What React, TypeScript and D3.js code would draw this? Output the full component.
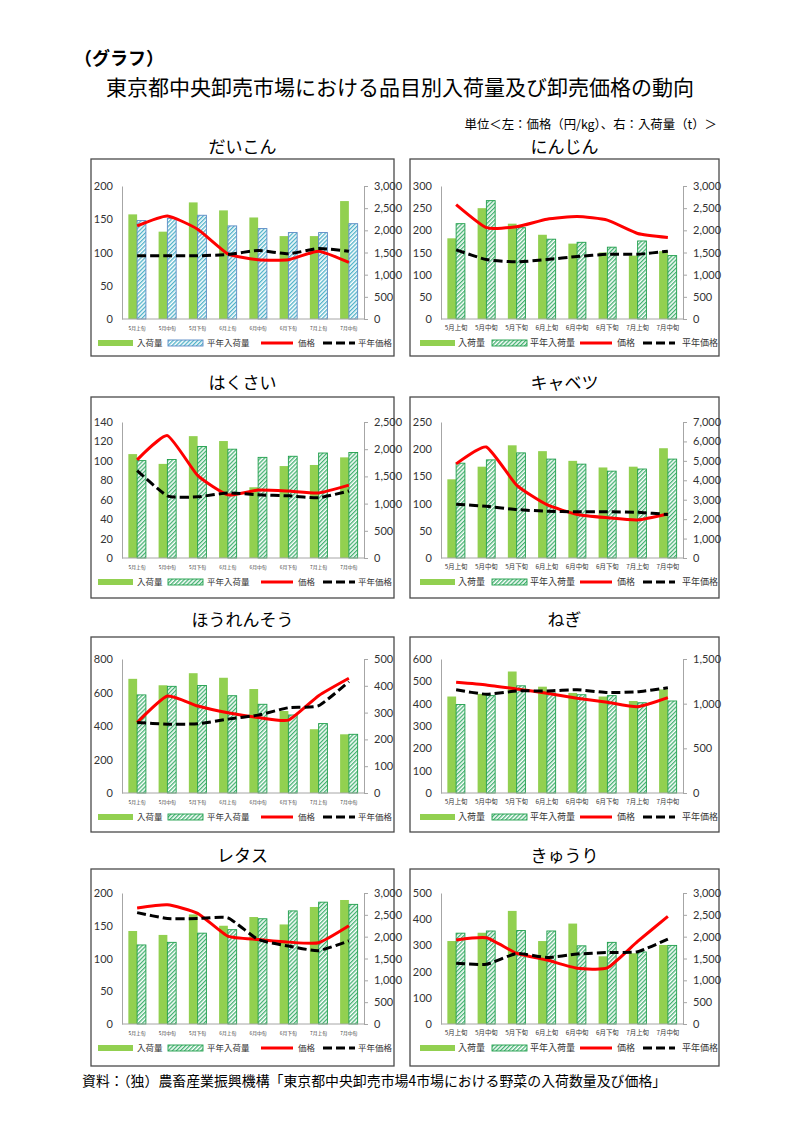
import React, { useRef, useEffect } from "react";
import * as d3 from "d3";

// 旬別の区分
const periods = ["5月上旬", "5月中旬", "5月下旬", "6月上旬", "6月中旬", "6月下旬", "7月上旬", "7月中旬"];

// だいこん (入荷量 t / 価格 円/kg)
const daikonVolume = [2360, 1970, 2630, 2450, 2290, 1870, 1870, 2660];
const daikonNormalVolume = [2220, 2270, 2340, 2100, 2040, 1950, 1950, 2150];
const daikonPrice = [140, 155, 135, 98, 89, 89, 102, 85];
const daikonNormalPrice = [95, 95, 95, 97, 103, 98, 106, 102];
const daikonPriceTicks = [0, 50, 100, 150, 200];
const daikonVolumeTicks = [0, 500, 1000, 1500, 2000, 2500, 3000];

// にんじん
const ninjinVolume = [1820, 2500, 2150, 1900, 1700, 1500, 1430, 1530];
const ninjinNormalVolume = [2150, 2670, 2060, 1800, 1730, 1620, 1760, 1430];
const ninjinPrice = [258, 206, 208, 225, 231, 223, 193, 184];
const ninjinNormalPrice = [156, 134, 129, 134, 141, 146, 146, 153];
const ninjinPriceTicks = [0, 50, 100, 150, 200, 250, 300];
const ninjinVolumeTicks = [0, 500, 1000, 1500, 2000, 2500, 3000];

// はくさい
const hakusaiVolume = [1910, 1730, 2240, 2150, 1300, 1690, 1710, 1850];
const hakusaiNormalVolume = [1790, 1810, 2050, 2000, 1850, 1870, 1930, 1940];
const hakusaiPrice = [101, 126, 85, 65, 70, 69, 67, 75];
const hakusaiNormalPrice = [90, 64, 63, 67, 65, 64, 62, 69];
const hakusaiPriceTicks = [0, 20, 40, 60, 80, 100, 120, 140];
const hakusaiVolumeTicks = [0, 500, 1000, 1500, 2000, 2500];

// キャベツ
const cabbageVolume = [4050, 4700, 5800, 5500, 5000, 4660, 4700, 5650];
const cabbageNormalVolume = [4880, 5050, 5410, 5090, 4830, 4470, 4580, 5090];
const cabbagePrice = [173, 204, 134, 98, 80, 74, 70, 81];
const cabbageNormalPrice = [99, 95, 89, 86, 85, 85, 84, 80];
const cabbagePriceTicks = [0, 50, 100, 150, 200, 250];
const cabbageVolumeTicks = [0, 1000, 2000, 3000, 4000, 5000, 6000, 7000];

// ほうれんそう
const spinachVolume = [426, 402, 447, 430, 388, 306, 238, 219];
const spinachNormalVolume = [366, 398, 401, 363, 331, 291, 259, 219];
const spinachPrice = [421, 579, 519, 479, 451, 435, 581, 685];
const spinachNormalPrice = [421, 411, 413, 441, 465, 509, 521, 665];
const spinachPriceTicks = [0, 200, 400, 600, 800];
const spinachVolumeTicks = [0, 100, 200, 300, 400, 500];

// ねぎ
const negiVolume = [1080, 1110, 1360, 1190, 1120, 1080, 1030, 1160];
const negiNormalVolume = [990, 1090, 1200, 1120, 1100, 1090, 1010, 1030];
const negiPrice = [496, 484, 466, 447, 424, 406, 386, 427];
const negiNormalPrice = [462, 442, 457, 457, 462, 450, 453, 471];
const negiPriceTicks = [0, 100, 200, 300, 400, 500, 600];
const negiVolumeTicks = [0, 500, 1000, 1500];

// レタス
const lettuceVolume = [2130, 2040, 2510, 2250, 2450, 2280, 2680, 2840];
const lettuceNormalVolume = [1810, 1870, 2080, 2160, 2410, 2590, 2790, 2740];
const lettucePrice = [177, 182, 169, 134, 129, 125, 124, 150];
const lettuceNormalPrice = [170, 161, 161, 162, 129, 119, 112, 127];
const lettucePriceTicks = [0, 50, 100, 150, 200];
const lettuceVolumeTicks = [0, 500, 1000, 1500, 2000, 2500, 3000];

// きゅうり
const kyuriVolume = [1900, 2090, 2590, 1900, 2300, 1550, 1620, 1810];
const kyuriNormalVolume = [2080, 2130, 2140, 2130, 1790, 1870, 1650, 1800];
const kyuriPrice = [321, 329, 270, 244, 213, 214, 315, 411];
const kyuriNormalPrice = [232, 228, 269, 254, 267, 273, 276, 324];
const kyuriPriceTicks = [0, 100, 200, 300, 400, 500];
const kyuriVolumeTicks = [0, 500, 1000, 1500, 2000, 2500, 3000];

const legendLabels = ["入荷量", "平年入荷量", "価格", "平年価格"];

const items = [
  { name: "だいこん", volume: daikonVolume, normalVolume: daikonNormalVolume, price: daikonPrice, normalPrice: daikonNormalPrice, priceTicks: daikonPriceTicks, volumeTicks: daikonVolumeTicks, hatch: "blue" },
  { name: "にんじん", volume: ninjinVolume, normalVolume: ninjinNormalVolume, price: ninjinPrice, normalPrice: ninjinNormalPrice, priceTicks: ninjinPriceTicks, volumeTicks: ninjinVolumeTicks, hatch: "green" },
  { name: "はくさい", volume: hakusaiVolume, normalVolume: hakusaiNormalVolume, price: hakusaiPrice, normalPrice: hakusaiNormalPrice, priceTicks: hakusaiPriceTicks, volumeTicks: hakusaiVolumeTicks, hatch: "green" },
  { name: "キャベツ", volume: cabbageVolume, normalVolume: cabbageNormalVolume, price: cabbagePrice, normalPrice: cabbageNormalPrice, priceTicks: cabbagePriceTicks, volumeTicks: cabbageVolumeTicks, hatch: "green" },
  { name: "ほうれんそう", volume: spinachVolume, normalVolume: spinachNormalVolume, price: spinachPrice, normalPrice: spinachNormalPrice, priceTicks: spinachPriceTicks, volumeTicks: spinachVolumeTicks, hatch: "green" },
  { name: "ねぎ", volume: negiVolume, normalVolume: negiNormalVolume, price: negiPrice, normalPrice: negiNormalPrice, priceTicks: negiPriceTicks, volumeTicks: negiVolumeTicks, hatch: "green" },
  { name: "レタス", volume: lettuceVolume, normalVolume: lettuceNormalVolume, price: lettucePrice, normalPrice: lettuceNormalPrice, priceTicks: lettucePriceTicks, volumeTicks: lettuceVolumeTicks, hatch: "green" },
  { name: "きゅうり", volume: kyuriVolume, normalVolume: kyuriNormalVolume, price: kyuriPrice, normalPrice: kyuriNormalPrice, priceTicks: kyuriPriceTicks, volumeTicks: kyuriVolumeTicks, hatch: "green" },
];

const JP = "'Noto Sans CJK JP', sans-serif";
const NUM = "Lato, 'Open Sans', sans-serif";
const BAR_GREEN = "#92D050";
const AXIS = "#A6A6A6";
const hatchStyles: Record<string, { border: string; stripe: string }> = {
  green: { border: "#1E9E4A", stripe: "#2EAA62" },
  blue: { border: "#5B8BC5", stripe: "#3BA9C2" },
};

// page layout
const rows = [
  { titleY: 153, boxTop: 159, boxBottom: 356, plotTop: 186, plotBottom: 319 },
  { titleY: 389, boxTop: 397, boxBottom: 598, plotTop: 422, plotBottom: 558 },
  { titleY: 626, boxTop: 637, boxBottom: 832, plotTop: 659, plotBottom: 793 },
  { titleY: 862, boxTop: 869, boxBottom: 1066, plotTop: 893, plotBottom: 1024 },
];
const cols = [
  { boxX: 91, boxW: 303, xFont: 4.8, legendFont: 8.5, legend: [7, 46, 77, 116, 170, 207, 232, 267] },
  { boxX: 410, boxW: 309, xFont: 6.4, legendFont: 9, legend: [10, 48, 82, 120, 170, 207, 233, 272] },
];

function drawPanel(svg: any, item: any, col: number, row: number) {
  const c = cols[col];
  const r = rows[row];
  const left = c.boxX + 31;
  const right = c.boxX + 273;
  const hs = hatchStyles[item.hatch];
  const g = svg.append("g");

  // title + frame
  g.append("text")
    .attr("x", c.boxX + c.boxW / 2)
    .attr("y", r.titleY)
    .attr("text-anchor", "middle")
    .attr("font-family", JP)
    .attr("font-size", 17)
    .text(item.name);
  g.append("rect")
    .attr("x", c.boxX)
    .attr("y", r.boxTop)
    .attr("width", c.boxW)
    .attr("height", r.boxBottom - r.boxTop)
    .attr("fill", "#fff")
    .attr("stroke", "#4a4a4a")
    .attr("stroke-width", 1.3);

  // scales: left = price, right = volume
  const x = d3.scaleBand<string>().domain(periods).range([left, right]);
  const yPrice = d3.scaleLinear().domain([0, d3.max(item.priceTicks as number[])!]).range([r.plotBottom, r.plotTop]);
  const yVol = d3.scaleLinear().domain([0, d3.max(item.volumeTicks as number[])!]).range([r.plotBottom, r.plotTop]);
  const cx = (i: number) => x(periods[i])! + x.bandwidth() / 2;
  const bw = x.bandwidth() * 0.29;

  // axes
  const la = g.append("g")
    .attr("transform", `translate(${left},0)`)
    .call(d3.axisLeft(yPrice).tickValues(item.priceTicks).tickSize(0).tickSizeOuter(0).tickPadding(9).tickFormat(d3.format(",")));
  la.attr("font-family", NUM).attr("font-size", 11);
  la.select(".domain").attr("stroke", AXIS);
  la.selectAll("text").attr("fill", "#333");

  const ra = g.append("g")
    .attr("transform", `translate(${right},0)`)
    .call(d3.axisRight(yVol).tickValues(item.volumeTicks).tickSize(4).tickSizeOuter(0).tickPadding(6).tickFormat(d3.format(",")));
  ra.attr("font-family", NUM).attr("font-size", 11);
  ra.select(".domain").attr("stroke", AXIS);
  ra.selectAll("line").attr("stroke", AXIS);
  ra.selectAll("text").attr("fill", "#333");

  // bars (volume, right axis)
  g.append("g")
    .selectAll("rect")
    .data(item.volume)
    .join("rect")
    .attr("x", (_d: number, i: number) => cx(i) - bw)
    .attr("y", (d: number) => yVol(d))
    .attr("width", bw)
    .attr("height", (d: number) => r.plotBottom - yVol(d))
    .attr("fill", BAR_GREEN);

  g.append("g")
    .selectAll("rect")
    .data(item.normalVolume)
    .join("rect")
    .attr("x", (_d: number, i: number) => cx(i))
    .attr("y", (d: number) => yVol(d))
    .attr("width", bw)
    .attr("height", (d: number) => r.plotBottom - yVol(d))
    .attr("fill", `url(#hatch-${item.hatch})`)
    .attr("stroke", hs.border)
    .attr("stroke-width", 0.9);

  // category axis
  g.append("line")
    .attr("x1", left).attr("x2", right)
    .attr("y1", r.plotBottom).attr("y2", r.plotBottom)
    .attr("stroke", AXIS);
  g.append("g")
    .selectAll("text")
    .data(periods)
    .join("text")
    .attr("x", (_d: string, i: number) => cx(i))
    .attr("y", r.plotBottom + 9)
    .attr("dy", "0.35em")
    .attr("text-anchor", "middle")
    .attr("font-family", JP)
    .attr("font-size", c.xFont)
    .attr("fill", "#333")
    .text((d: string) => d);

  // price lines (left axis)
  const line = d3.line<number>()
    .x((_d, i) => cx(i))
    .y((d) => yPrice(d))
    .curve(d3.curveCardinal.tension(0.5));
  g.append("path")
    .attr("d", line(item.price))
    .attr("fill", "none")
    .attr("stroke", "#FF0000")
    .attr("stroke-width", 3);
  g.append("path")
    .attr("d", line(item.normalPrice))
    .attr("fill", "none")
    .attr("stroke", "#000")
    .attr("stroke-width", 3)
    .attr("stroke-dasharray", "9,4");

  // legend
  const ly = r.plotBottom + 24;
  const L = c.legend;
  const lg = g.append("g").attr("font-family", JP).attr("font-size", c.legendFont).attr("fill", "#333");
  lg.append("rect").attr("x", c.boxX + L[0]).attr("y", ly - 3).attr("width", 35).attr("height", 6).attr("fill", BAR_GREEN);
  lg.append("rect").attr("x", c.boxX + L[2]).attr("y", ly - 3).attr("width", 35).attr("height", 6)
    .attr("fill", `url(#hatch-${item.hatch})`).attr("stroke", hs.border).attr("stroke-width", 0.9);
  lg.append("line").attr("x1", c.boxX + L[4]).attr("x2", c.boxX + L[4] + 32).attr("y1", ly).attr("y2", ly)
    .attr("stroke", "#FF0000").attr("stroke-width", 3);
  lg.append("line").attr("x1", c.boxX + L[6]).attr("x2", c.boxX + L[6] + 32).attr("y1", ly).attr("y2", ly)
    .attr("stroke", "#000").attr("stroke-width", 3).attr("stroke-dasharray", "9,4");
  legendLabels.forEach((label, k) => {
    lg.append("text")
      .attr("x", c.boxX + L[k * 2 + 1])
      .attr("y", ly)
      .attr("dy", "0.36em")
      .text(label);
  });
}

const App: React.FC = () => {
  const svgRef = useRef<SVGSVGElement | null>(null);

  useEffect(() => {
    if (!svgRef.current) return;
    const svg = d3.select(svgRef.current);
    svg.selectAll("*").remove();

    // hatch patterns
    const defs = svg.append("defs");
    Object.entries(hatchStyles).forEach(([key, s]) => {
      const p = defs.append("pattern")
        .attr("id", `hatch-${key}`)
        .attr("patternUnits", "userSpaceOnUse")
        .attr("width", 2.9)
        .attr("height", 2.9)
        .attr("patternTransform", "rotate(45)");
      p.append("rect").attr("width", 2.9).attr("height", 2.9).attr("fill", "#fff");
      p.append("line").attr("x1", 0.7).attr("x2", 0.7).attr("y1", 0).attr("y2", 2.9)
        .attr("stroke", s.stripe).attr("stroke-width", 1.2);
    });

    // header
    svg.append("text")
      .attr("x", 74).attr("y", 65)
      .attr("font-family", JP).attr("font-size", 18).attr("font-weight", "bold")
      .text("（グラフ）");
    svg.append("text")
      .attr("x", 400).attr("y", 95)
      .attr("text-anchor", "middle")
      .attr("font-family", JP).attr("font-size", 21)
      .text("東京都中央卸売市場における品目別入荷量及び卸売価格の動向");
    svg.append("text")
      .attr("x", 717).attr("y", 128.5)
      .attr("text-anchor", "end")
      .attr("font-family", JP).attr("font-size", 12.4)
      .text("単位＜左：価格（円/kg）、右：入荷量（t）＞");

    items.forEach((item, i) => drawPanel(svg, item, i % 2, Math.floor(i / 2)));

    // source
    svg.append("text")
      .attr("x", 82).attr("y", 1086)
      .attr("font-family", JP).attr("font-size", 13.9)
      .text("資料：（独）農畜産業振興機構「東京都中央卸売市場4市場における野菜の入荷数量及び価格」");
  }, []);

  return (
    <svg
      ref={svgRef}
      width={794}
      height={1123}
      style={{ position: "absolute", left: 0, top: 0, background: "#fff" }}
    ></svg>
  );
};

export default App;
